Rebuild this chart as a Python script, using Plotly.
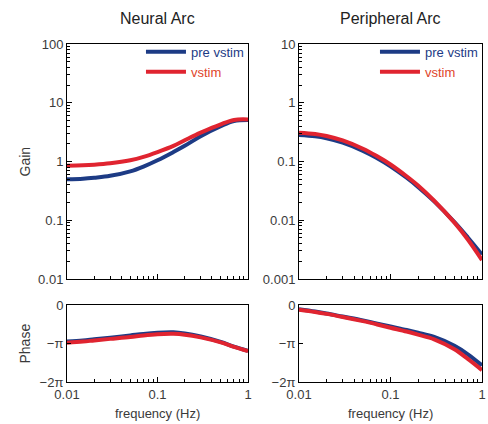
import numpy as np
import plotly.graph_objects as go

# Frequency grid (Hz)
freq = [0.01, 0.015, 0.02, 0.03, 0.05, 0.07, 0.1, 0.15, 0.2, 0.3, 0.5, 0.7, 1.0]

# Neural arc transfer function
neural_gain_pre = [0.50, 0.51, 0.53, 0.57, 0.68, 0.82, 1.05, 1.45, 1.85, 2.7, 4.0, 4.9, 5.1]
neural_gain_vstim = [0.85, 0.86, 0.88, 0.93, 1.05, 1.2, 1.45, 1.85, 2.3, 3.1, 4.3, 5.1, 5.2]
# phase in units of pi
neural_phase_pre = [-0.95, -0.92, -0.89, -0.85, -0.79, -0.75, -0.72, -0.71, -0.74, -0.82, -0.96, -1.08, -1.19]
neural_phase_vstim = [-0.98, -0.95, -0.92, -0.88, -0.83, -0.79, -0.76, -0.75, -0.77, -0.84, -0.97, -1.09, -1.20]

# Peripheral arc transfer function
periph_gain_pre = [0.282, 0.268, 0.248, 0.209, 0.152, 0.116, 0.083, 0.053, 0.037, 0.021, 0.0093, 0.0051, 0.0026]
periph_gain_vstim = [0.31, 0.295, 0.272, 0.228, 0.165, 0.125, 0.089, 0.056, 0.039, 0.0215, 0.0091, 0.0047, 0.0021]
periph_phase_pre = [-0.11, -0.17, -0.22, -0.30, -0.40, -0.48, -0.56, -0.65, -0.72, -0.83, -1.06, -1.28, -1.57]
periph_phase_vstim = [-0.12, -0.18, -0.23, -0.31, -0.42, -0.50, -0.59, -0.69, -0.77, -0.89, -1.15, -1.40, -1.69]

series_names = ["pre vstim", "vstim"]
BLUE = "#1d3b85"
RED = "#e02430"
LEGEND_TXT = ["#1d3b85", "#e0452b"]

FONT = "Liberation Sans, Arial, sans-serif"
TXT = "#3a3a3a"

fig = go.Figure()

panels = [
    # (xaxis, yaxis, data_pre, data_vstim, is_phase, legend)
    ("x", "y", neural_gain_pre, neural_gain_vstim, False, "legend"),
    ("x2", "y2", periph_gain_pre, periph_gain_vstim, False, "legend2"),
    ("x3", "y3", neural_phase_pre, neural_phase_vstim, True, None),
    ("x4", "y4", periph_phase_pre, periph_phase_vstim, True, None),
]

for xa, ya, pre, vst, is_phase, leg in panels:
    for name, vals, color, tcol in [(series_names[0], pre, BLUE, LEGEND_TXT[0]),
                                    (series_names[1], vst, RED, LEGEND_TXT[1])]:
        y = np.pi * np.array(vals) if is_phase else vals
        if leg:
            kw = dict(legend=leg, showlegend=True,
                      name=f"<span style='color:{tcol}'>{name}</span>")
        else:
            kw = dict(showlegend=False, name=name)
        fig.add_trace(go.Scatter(
            x=freq, y=y, xaxis=xa, yaxis=ya, mode="lines",
            line=dict(color=color, width=4, shape="spline", smoothing=1.0),
            **kw))

xl = [67 / 488, 248 / 488]
xr = [299 / 488, 482 / 488]
yg = [1 - 279 / 424, 1 - 44 / 424]
yp = [1 - 382 / 424, 1 - 305 / 424]

axis_common = dict(showline=True, linecolor="black", linewidth=1, mirror=True,
                   showgrid=False, zeroline=False, ticks="inside", automargin=False,
                   tickcolor="black", tickfont=dict(family=FONT, size=13, color=TXT))

log_minor = dict(ticks="inside", ticklen=3, tickcolor="black", showgrid=False)

def xaxis(domain, anchor, labels):
    d = dict(axis_common)
    d.update(type="log", range=[-2, 0], domain=domain, anchor=anchor,
             tickvals=[0.01, 0.1, 1], ticktext=["0.01", "0.1", "1"],
             showticklabels=labels, ticklen=5, minor=dict(log_minor, dtick="D1"))
    return d

def gain_axis(domain, anchor, rng, vals, text):
    d = dict(axis_common)
    d.update(type="log", range=rng, domain=domain, anchor=anchor,
             tickvals=vals, ticktext=text, ticklen=5,
             minor=dict(log_minor, dtick="D1"))
    return d

def phase_axis(domain, anchor):
    d = dict(axis_common)
    d.update(range=[-2 * np.pi, 0], domain=domain, anchor=anchor,
             tickvals=[0, -np.pi, -2 * np.pi], ticktext=["0", "\u2212\u03c0", "\u22122\u03c0"],
             ticklen=4)
    return d

legend_style = dict(xanchor="right", y=yg[1] + 0.017, yanchor="top",
                    bgcolor="rgba(0,0,0,0)", font=dict(family=FONT, size=13),
                    itemwidth=40, tracegroupgap=0)

fig.update_layout(
    width=488, height=424,
    margin=dict(l=0, r=0, t=0, b=0),
    paper_bgcolor="white", plot_bgcolor="white",
    font=dict(family=FONT, color=TXT),
    xaxis=xaxis(xl, "y", False),
    yaxis=gain_axis(yg, "x", [-2, 2], [0.01, 0.1, 1, 10, 100], ["0.01", "0.1", "1", "10", "100"]),
    xaxis2=xaxis(xr, "y2", False),
    yaxis2=gain_axis(yg, "x2", [-3, 1], [0.001, 0.01, 0.1, 1, 10], ["0.001", "0.01", "0.1", "1", "10"]),
    xaxis3=xaxis(xl, "y3", True),
    yaxis3=phase_axis(yp, "x3"),
    xaxis4=xaxis(xr, "y4", True),
    yaxis4=phase_axis(yp, "x4"),
    legend=dict(legend_style, x=xl[1] + 0.002),
    legend2=dict(legend_style, x=xr[1] + 0.002),
)

annotations = [
    dict(text="Neural Arc", x=(xl[0] + xl[1]) / 2, y=1 - 19 / 424),
    dict(text="Peripheral Arc", x=(xr[0] + xr[1]) / 2, y=1 - 19 / 424),
]
for a in annotations:
    fig.add_annotation(xref="paper", yref="paper", showarrow=False,
                       xanchor="center", yanchor="middle",
                       font=dict(family=FONT, size=16, color="#222"), **a)

for text, yc in [("Gain", (yg[0] + yg[1]) / 2), ("Phase", (yp[0] + yp[1]) / 2)]:
    fig.add_annotation(text=text, xref="paper", yref="paper", x=24 / 488, y=yc,
                       xanchor="center", yanchor="middle",
                       textangle=-90, showarrow=False,
                       font=dict(family=FONT, size=14, color=TXT))

for dom in (xl, xr):
    fig.add_annotation(text="frequency (Hz)", xref="paper", yref="paper",
                       x=(dom[0] + dom[1]) / 2, y=1 - 413 / 424, showarrow=False,
                       xanchor="center", yanchor="middle",
                       font=dict(family=FONT, size=13, color=TXT))

fig.write_html("out.html")
